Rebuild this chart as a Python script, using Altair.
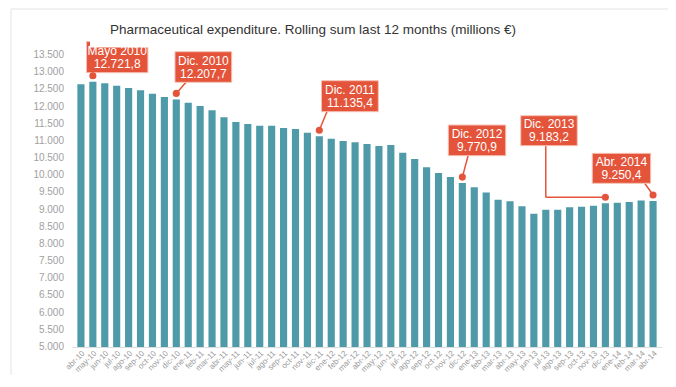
import altair as alt
import pandas as pd

# ---- data ----
months = ["abr-10","may-10","jun-10","jul-10","ago-10","sep-10","oct-10","nov-10","dic-10",
          "ene-11","feb-11","mar-11","abr-11","may-11","jun-11","jul-11","ago-11","sep-11","oct-11","nov-11","dic-11",
          "ene-12","feb-12","mar-12","abr-12","may-12","jun-12","jul-12","ago-12","sep-12","oct-12","nov-12","dic-12",
          "ene-13","feb-13","mar-13","abr-13","may-13","jun-13","jul-13","ago-13","sep-13","oct-13","nov-13","dic-13",
          "ene-14","feb-14","mar-14","abr-14"]
values = [12650, 12721.8, 12676, 12607, 12540, 12472, 12374, 12277, 12207.7,
          12112, 12015, 11890, 11686, 11550, 11491, 11442, 11442, 11375, 11346, 11235, 11135.4,
          11064, 10997, 10959, 10909, 10851, 10880, 10656, 10473, 10231, 10065, 9949, 9770.9,
          9649, 9500, 9290, 9240, 9095, 8880, 8997, 8997, 9066, 9084, 9113, 9183.2,
          9200, 9219, 9265, 9250.4]
y_ticks = [5000, 5500, 6000, 6500, 7000, 7500, 8000, 8500, 9000, 9500,
           10000, 10500, 11000, 11500, 12000, 12500, 13000, 13500]
y_tick_labels = ["5.000", "5.500", "6.000", "6.500", "7.000", "7.500", "8.000", "8.500", "9.000", "9.500",
                 "10.000", "10.500", "11.000", "11.500", "12.000", "12.500", "13.000", "13.500"]

ann_index = [1, 8, 20, 32, 44, 48]
ann_line1 = ["Mayo 2010", "Dic. 2010", "Dic. 2011", "Dic. 2012", "Dic. 2013", "Abr. 2014"]
ann_line2 = ["12.721,8", "12.207,7", "11.135,4", "9.770,9", "9.183,2", "9.250,4"]

title_text = "Pharmaceutical expenditure. Rolling sum last 12 months (millions €)"

# ---- layout (annotation boxes in bar-index / value units) ----
box_x1 = [0.47, 7.89, 20.18, 30.82, 36.90, 42.90]
box_x2 = [5.62, 12.65, 24.95, 35.64, 41.64, 47.80]
box_y1 = [13893, 13596, 12752, 11462, 11733, 10638]
box_y2 = [12985, 12705, 11849, 10569, 10860, 9765]
lift = 6 * 8500 / 292  # dots sit 6px above bar tops

BAR = "#4f9aa8"
RED = "#e4543a"
FONT = "Liberation Sans"

df = pd.DataFrame({"month": months, "value": values, "base": [5000] * len(months)})
ticks_df = pd.DataFrame({"v": y_ticks, "lab": y_tick_labels})

dots = pd.DataFrame({"i": ann_index, "v": [values[k] + lift for k in ann_index]})

boxes = pd.DataFrame({
    "x1": box_x1, "x2": box_x2, "y1": box_y1, "y2": box_y2,
    "xc": [(a + b) / 2 for a, b in zip(box_x1, box_x2)],
    "yc": [(a + b) / 2 for a, b in zip(box_y1, box_y2)],
    "t1": ann_line1, "t2": ann_line2,
})

d = dots["v"].tolist()
segs = pd.DataFrame({
    "x1": [1, 8, 20, 32, 39.0, 39.0, 47.3],
    "y1": [d[0], d[1], d[2], d[3], 10860, d[4], 9765],
    "x2": [1, 8.81, 20.64, 32.48, 39.0, 44, 48],
    "y2": [12985, 12705, 11849, 10569, d[4], d[4], d[5]],
})

yscale = alt.Scale(domain=[5000, 13500], nice=False, zero=False)
xq = alt.Scale(domain=[-0.75, 48.75], nice=False, zero=False)

bars = alt.Chart(df).mark_bar(color=BAR).encode(
    x=alt.X("month:N", sort=months,
            scale=alt.Scale(paddingInner=0.4, paddingOuter=0.45),
            axis=alt.Axis(title=None, labelAngle=315, labelFontSize=8, labelColor="#999999",
                          labelFont=FONT, ticks=False, domainColor="#dddddd", labelPadding=2)),
    y=alt.Y("value:Q", scale=yscale, axis=None),
    y2="base:Q",
)

ylabels = alt.Chart(ticks_df).mark_text(align="right", baseline="middle", fontSize=10,
                                        font=FONT, color="#a0a0a0").encode(
    x=alt.value(-8), y=alt.Y("v:Q", scale=yscale, axis=None), text="lab:N")

frame = alt.Chart(pd.DataFrame({"a": [0]})).mark_rect(fill="white", fillOpacity=0, stroke="#e3e3e3", strokeWidth=1).encode(
    x=alt.value(-61), x2=alt.value(640), y=alt.value(-46), y2=alt.value(360))

seg_layer = alt.Chart(segs).mark_rule(color=RED, strokeWidth=1.5).encode(
    x=alt.X("x1:Q", scale=xq, axis=None), x2="x2:Q",
    y=alt.Y("y1:Q", scale=yscale, axis=None), y2="y2:Q")

box_layer = alt.Chart(boxes).mark_rect(color=RED, stroke="#f6c2b5", strokeWidth=1).encode(
    x=alt.X("x1:Q", scale=xq, axis=None), x2="x2:Q",
    y=alt.Y("y1:Q", scale=yscale, axis=None), y2="y2:Q")

txt1 = alt.Chart(boxes).mark_text(color="white", fontSize=12, font=FONT, dy=-6.5).encode(
    x=alt.X("xc:Q", scale=xq, axis=None), y=alt.Y("yc:Q", scale=yscale, axis=None), text="t1:N")
txt2 = alt.Chart(boxes).mark_text(color="white", fontSize=12, font=FONT, dy=6.5).encode(
    x=alt.X("xc:Q", scale=xq, axis=None), y=alt.Y("yc:Q", scale=yscale, axis=None), text="t2:N")

dot_layer = alt.Chart(dots).mark_circle(color=RED, size=50, opacity=1).encode(
    x=alt.X("i:Q", scale=xq, axis=None), y=alt.Y("v:Q", scale=yscale, axis=None))

white = alt.Chart(pd.DataFrame({"a": [0]})).mark_rect(color="white").encode(
    x=alt.value(18), x2=alt.value(500), y=alt.value(-36), y2=alt.value(-7.5))

title = alt.Chart(pd.DataFrame({"t": [title_text]})).mark_text(
    align="left", baseline="middle", fontSize=13.5, font=FONT, color="#333333").encode(
    x=alt.value(38), y=alt.value(-25), text="t:N")

chart = alt.layer(bars, ylabels, frame, seg_layer, box_layer, txt1, txt2, dot_layer, white, title).resolve_scale(
    x="independent").properties(
    width=590, height=292,
    autosize=alt.AutoSizeParams(type="none"),
    padding={"left": 64, "top": 47, "right": 6, "bottom": 28},
).configure(view=alt.ViewConfig(stroke=None))

chart.save("out.html", embed_options={"renderer": "svg", "actions": False})
